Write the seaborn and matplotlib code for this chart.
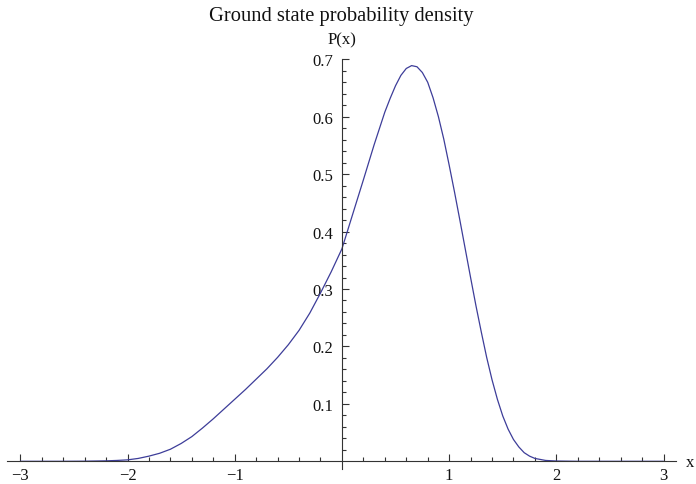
import numpy as np
import pandas as pd
import matplotlib
matplotlib.use("Agg")
import matplotlib.pyplot as plt
from matplotlib.ticker import FixedLocator
import seaborn as sns

# ---- data ----
x_vals = [-3.0, -2.8, -2.6, -2.4, -2.2, -2.1, -2.0, -1.9, -1.8, -1.7, -1.6, -1.5,
          -1.4, -1.3, -1.2, -1.1, -1.0, -0.9, -0.8, -0.7, -0.6, -0.5, -0.4, -0.3,
          -0.2, -0.1, 0.0, 0.1, 0.2, 0.3, 0.4, 0.45, 0.5, 0.55, 0.6, 0.65, 0.7,
          0.75, 0.8, 0.85, 0.9, 0.95, 1.0, 1.05, 1.1, 1.15, 1.2, 1.25, 1.3, 1.35,
          1.4, 1.45, 1.5, 1.55, 1.6, 1.65, 1.7, 1.75,
          1.8, 1.9, 2.0, 2.2, 2.4, 2.6, 2.8, 3.0]
p_vals = [0.0, 0.0, 0.0, 0.0002, 0.0008, 0.0015, 0.0025, 0.005, 0.009, 0.014, 0.021, 0.031,
          0.043, 0.058, 0.074, 0.091, 0.108, 0.125, 0.143, 0.161, 0.181, 0.203, 0.228, 0.258,
          0.293, 0.330, 0.370, 0.430, 0.490, 0.551, 0.608, 0.632, 0.654, 0.672, 0.684, 0.689, 0.687,
          0.677, 0.660, 0.633, 0.600, 0.561, 0.516, 0.469, 0.420, 0.370, 0.320, 0.271, 0.225, 0.181,
          0.142, 0.108, 0.079, 0.056, 0.038, 0.025, 0.015, 0.009,
          0.005, 0.0015, 0.0005, 0.0, 0.0, 0.0, 0.0, 0.0]
x_major = [-3, -2, -1, 1, 2, 3]
y_major = [0.1, 0.2, 0.3, 0.4, 0.5, 0.6, 0.7]
x_labels = ["\u22123", "\u22122", "\u22121", "1", "2", "3"]
y_labels = ["0.1", "0.2", "0.3", "0.4", "0.5", "0.6", "0.7"]
title = "Ground state probability density"
ylab = "P(x)"
xlab = "x"

df = pd.DataFrame({"x": x_vals, "P": p_vals})

sns.set_style("white")
plt.rcParams["font.family"] = ["Liberation Serif", "DejaVu Serif"]

W, H = 696, 485
fig = plt.figure(figsize=(W / 100, H / 100), dpi=100)
ax = fig.add_axes([7 / W, (H - 470) / H, (676 - 7) / W, (470 - 60) / H])

sns.lineplot(data=df, x="x", y="P", ax=ax, color="#3d3d99", lw=0.9)

ax.set_xlim(-3.124, 3.116)
ax.set_ylim(-0.0134, 0.7005)

for s in ["top", "right"]:
    ax.spines[s].set_visible(False)
ax.spines["left"].set_position(("data", 0))
ax.spines["bottom"].set_position(("data", 0))
for s in ["left", "bottom"]:
    ax.spines[s].set_color("#333333")
    ax.spines[s].set_linewidth(0.8)

ax.xaxis.set_major_locator(FixedLocator(x_major))
ax.set_xticklabels(x_labels)
minor_x = [round(v, 1) for v in np.arange(-3.0, 3.01, 0.2) if abs(round(v, 1) - round(v)) > 1e-6]
ax.xaxis.set_minor_locator(FixedLocator(minor_x))
ax.yaxis.set_major_locator(FixedLocator(y_major))
ax.set_yticklabels(y_labels)
minor_y = [round(v, 2) for v in np.arange(0.02, 0.70, 0.02) if abs(round(v * 10) - v * 10) > 1e-6]
ax.yaxis.set_minor_locator(FixedLocator(minor_y))

ax.tick_params(which="both", direction="in", color="#333333", width=0.8,
               bottom=True, left=True, top=False, right=False,
               labelsize=12, labelcolor="#111111")
ax.tick_params(which="major", length=5)
ax.tick_params(which="minor", length=3)
ax.tick_params(axis="x", which="major", pad=4)
ax.tick_params(axis="y", which="major", pad=6)
ax.set_xlabel("")
ax.set_ylabel("")
ax.grid(False)

fig.text(341 / W, 1 - 21 / H, title, ha="center", va="baseline", fontsize=14.8, color="#111111")
fig.text(342 / W, 1 - 44 / H, ylab, ha="center", va="baseline", fontsize=12, color="#111111")
fig.text(690 / W, 1 - 463 / H, xlab, ha="center", va="center", fontsize=12, color="#111111")

fig.savefig("out.png", dpi=100)
